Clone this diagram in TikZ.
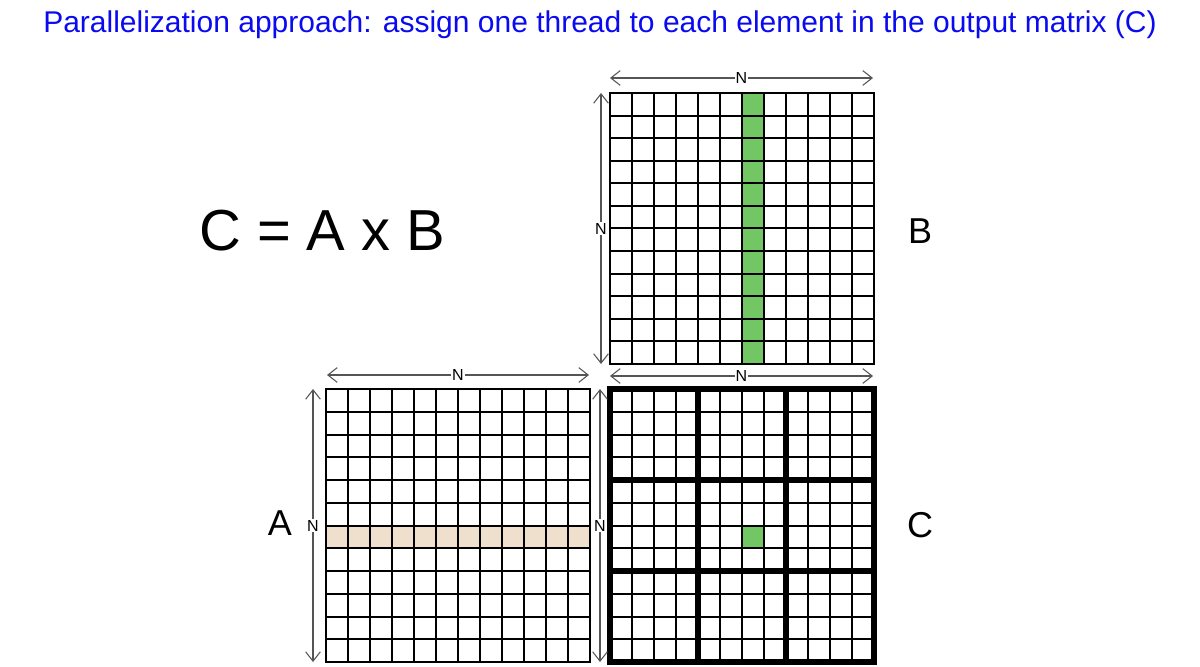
\documentclass[tikz,border=0pt]{standalone}
\usepackage{fontspec}
\setmainfont{Liberation Sans}
\usetikzlibrary{arrows.meta}
\definecolor{cgreen}{RGB}{114,199,100}
\definecolor{cbeige}{RGB}{239,224,205}
\definecolor{dimgray}{RGB}{85,85,85}
\definecolor{titleblue}{RGB}{10,10,240}
\begin{document}
\begin{tikzpicture}[x=0.75pt,y=-0.75pt,
  barb/.tip={Straight Barb[length=7pt,width=11pt,line width=0.8pt]},
  dimarrow/.style={draw=dimgray, line width=0.9pt, barb-barb},
  dimlabel/.style={fill=white, inner sep=0.6pt, font=\fontsize{12}{14}\selectfont},
  gridline/.style={line width=1.5pt, line cap=rect},
  thickline/.style={line width=4.6pt, line cap=rect},
  biglabel/.style={anchor=base, inner sep=0pt, font=\fontsize{27}{32}\selectfont},
  titletext/.style={anchor=base, inner sep=0pt, text=titleblue, font=\fontsize{22.5}{27}\selectfont}]
\useasboundingbox (0,0) rectangle (1200,667);

% title
\node[titletext] (title) at (600,32.3) {Parallelization approach: assign one thread to each element in the output matrix (C)};
% equation
\node[anchor=base west, inner sep=0pt, font=\fontsize{43.4}{50}\selectfont] (eq) at (199,250) {C = A x B};
% matrix labels
\node[biglabel] (lb) at (920,243.3) {B};
\node[biglabel] (la) at (280,535) {A};
\node[biglabel] (lc) at (920,537) {C};

% ---------- matrix A ----------
\fill[cbeige] (326,{389+6*22.75}) rectangle (590,{389+7*22.75});
\foreach \i in {0,...,12} {
  \draw[gridline] ({326+\i*22},389) -- ({326+\i*22},662);
  \draw[gridline] (326,{389+\i*22.75}) -- (590,{389+\i*22.75});
}

% ---------- matrix B ----------
\fill[cgreen] (742,93) rectangle (764,364);
\foreach \i in {0,...,12} {
  \draw[gridline] ({610+\i*22},93) -- ({610+\i*22},364);
  \draw[gridline] (610,{93+\i*22.583}) -- (874,{93+\i*22.583});
}

% ---------- matrix C ----------
\fill[cgreen] (742,{389+6*22.75}) rectangle (764,{389+7*22.75});
\foreach \i in {0,...,12} {
  \draw[gridline] ({610+\i*22},389) -- ({610+\i*22},662);
  \draw[gridline] (610,{389+\i*22.75}) -- (874,{389+\i*22.75});
}
\foreach \i in {0,4,8,12} {
  \draw[thickline] ({610+\i*22},389) -- ({610+\i*22},662);
  \draw[thickline] (610,{389+\i*22.75}) -- (874,{389+\i*22.75});
}

% ---------- dimension arrows ----------
\coordinate (bt1) at (610,78);  \coordinate (bt2) at (873,78);
\coordinate (bl1) at (601,93);  \coordinate (bl2) at (601,364);
\coordinate (at1) at (327,375); \coordinate (at2) at (589,375);
\coordinate (al1) at (313,389); \coordinate (al2) at (313,662);
\coordinate (ct1) at (610,376); \coordinate (ct2) at (873,376);
\coordinate (cl1) at (600,389); \coordinate (cl2) at (600,662);

\draw[dimarrow] (bt1) -- node[dimlabel] (nbt) {N} (bt2);
\draw[dimarrow] (bl1) -- node[dimlabel] (nbl) {N} (bl2);
\draw[dimarrow] (at1) -- node[dimlabel] (nat) {N} (at2);
\draw[dimarrow] (al1) -- node[dimlabel] (nal) {N} (al2);
\draw[dimarrow] (ct1) -- node[dimlabel] (nct) {N} (ct2);
\draw[dimarrow] (cl1) -- node[dimlabel] (ncl) {N} (cl2);
\end{tikzpicture}
\end{document}
